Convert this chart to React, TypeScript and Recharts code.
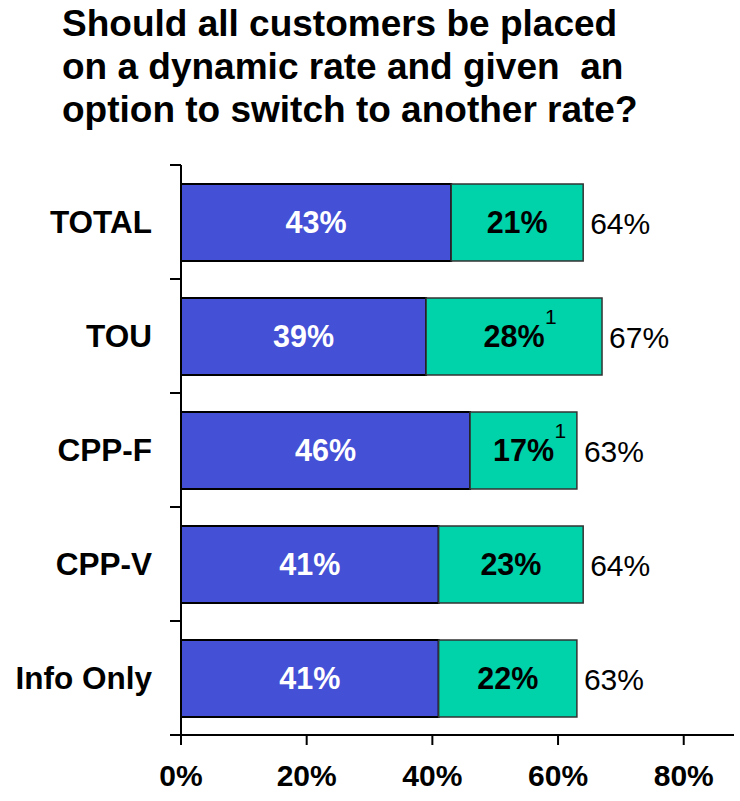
import React from 'react';
import { BarChart, Bar, XAxis, YAxis, LabelList } from 'recharts';

const categories = ['TOTAL', 'TOU', 'CPP-F', 'CPP-V', 'Info Only'];
const dynamicRate = [43, 39, 46, 41, 41];
const optionToSwitch = [21, 28, 17, 23, 22];
const totals = [64, 67, 63, 64, 63];
const footnotes = ['', '1', '1', '', ''];
const xTicks = [0, 20, 40, 60, 80];

const data = categories.map((name, i) => ({
  name,
  dynamic: dynamicRate[i],
  option: optionToSwitch[i],
  total: totals[i],
}));

const FONT = '"Liberation Sans", Arial, Helvetica, sans-serif';
const W = 740;
const H = 801;
const X_AXIS_H = 30;
const margin = { top: 165, right: 6, bottom: 36, left: 10 };
const band = (H - margin.top - margin.bottom - X_AXIS_H) / categories.length;

const CategoryTick = (props: any) => {
  const { x, y, payload, index } = props;
  const top = y - band / 2;
  return (
    <g>
      <line x1={x - 11} x2={x} y1={top} y2={top} stroke="#000" strokeWidth={2} />
      {index === categories.length - 1 && (
        <line x1={x - 11} x2={x} y1={y + band / 2} y2={y + band / 2} stroke="#000" strokeWidth={2} />
      )}
      <text x={x - 29} y={y} dy={11} textAnchor="end" fontFamily={FONT} fontSize={31.5} fontWeight="bold" fill="#000">
        {payload.value}
      </text>
    </g>
  );
};

const innerLabel = (color: string, withNote: boolean) => (props: any) => {
  const { x, y, width, height, value, index } = props;
  const cx = x + width / 2;
  const cy = y + height / 2;
  const note = withNote ? footnotes[index] : '';
  return (
    <g>
      <text x={cx} y={cy} dy={10.7} textAnchor="middle" fontFamily={FONT} fontSize={30.5} fontWeight="bold" fill={color}>
        {value}%
      </text>
      {note && (
        <text x={cx + 31} y={cy - 13} textAnchor="start" fontFamily={FONT} fontSize={21} fill="#000">
          {note}
        </text>
      )}
    </g>
  );
};

const totalLabel = (props: any) => {
  const { x, y, width, height, value } = props;
  return (
    <text x={x + width + 7} y={y + height / 2} dy={11} textAnchor="start" fontFamily={FONT} fontSize={30} fill="#000">
      {value}%
    </text>
  );
};

export default function App() {
  return (
    <div style={{ position: 'absolute', left: 0, top: 0, width: W, height: H, background: '#fff' }}>
      <div
        style={{
          position: 'absolute',
          left: 62,
          top: 2,
          fontFamily: FONT,
          fontWeight: 'bold',
          fontSize: 37,
          lineHeight: '43px',
          color: '#000',
          whiteSpace: 'pre',
        }}
      >
        {'Should all customers be placed\non a dynamic rate and given  an\noption to switch to another rate?'}
      </div>
      <div style={{ position: 'absolute', left: 0, top: 0 }}>
        <BarChart width={W} height={H} data={data} layout="vertical" margin={margin}>
          <XAxis
            type="number"
            domain={[0, 88]}
            ticks={xTicks}
            interval={0}
            height={X_AXIS_H}
            tickFormatter={(v: number) => `${v}%`}
            axisLine={{ stroke: '#000', strokeWidth: 2 }}
            tickLine={{ stroke: '#000', strokeWidth: 2 }}
            tickSize={10}
            tickMargin={20}
            tick={{ fill: '#000', fontSize: 30, fontWeight: 'bold', fontFamily: FONT }}
            allowDataOverflow
          />
          <YAxis
            type="category"
            dataKey="name"
            width={171}
            axisLine={{ stroke: '#000', strokeWidth: 2 }}
            tickLine={false}
            tickSize={0}
            tickMargin={0}
            interval={0}
            tick={<CategoryTick />}
          />
          <Bar dataKey="dynamic" stackId="a" fill="#4450D6" stroke="#000" strokeWidth={2} barSize={77} isAnimationActive={false}>
            <LabelList dataKey="dynamic" content={innerLabel('#fff', false)} />
          </Bar>
          <Bar dataKey="option" stackId="a" fill="#00D2AA" stroke="#333" strokeWidth={1.5} barSize={77} isAnimationActive={false}>
            <LabelList dataKey="option" content={innerLabel('#000', true)} />
            <LabelList dataKey="total" content={totalLabel} />
          </Bar>
        </BarChart>
      </div>
    </div>
  );
}
